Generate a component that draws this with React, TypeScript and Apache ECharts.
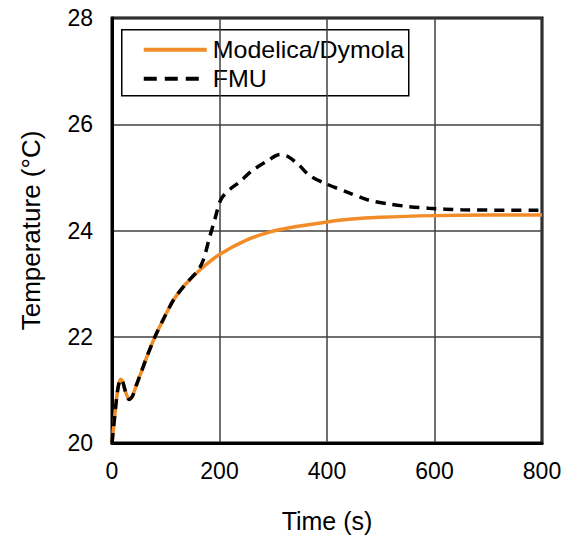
import React, { useEffect, useRef } from "react";
import * as echarts from "echarts";

const seriesNames = ["Modelica/Dymola", "FMU"];

const modelicaData: [number, number][] = [
  [0, 20.0], [3, 20.3], [6, 20.6], [9, 20.88], [12, 21.08], [16, 21.2], [20, 21.15],
  [25, 20.97], [32, 20.82], [38, 20.88], [45, 21.08], [55, 21.35], [64, 21.6],
  [80, 22.0], [100, 22.42], [115, 22.7], [135, 22.97], [166, 23.28], [200, 23.55],
  [250, 23.82], [290, 23.96], [330, 24.05], [400, 24.16], [441, 24.21], [500, 24.25],
  [600, 24.28], [700, 24.29], [800, 24.29],
];

const fmuData: [number, number][] = [
  [0, 20.0], [3, 20.3], [6, 20.6], [9, 20.88], [12, 21.08], [16, 21.2], [20, 21.15],
  [25, 20.97], [32, 20.82], [38, 20.88], [45, 21.08], [55, 21.35], [64, 21.6],
  [80, 22.0], [100, 22.42], [115, 22.7], [135, 22.97], [160, 23.25], [170, 23.45],
  [181, 23.85], [191, 24.2], [203, 24.59], [220, 24.78], [237, 24.91], [260, 25.12],
  [286, 25.29], [313, 25.43], [328, 25.39], [348, 25.23], [367, 25.04], [398, 24.88],
  [441, 24.71], [478, 24.57], [515, 24.5], [552, 24.45], [589, 24.42], [650, 24.39],
  [800, 24.38],
];

const xTicks = { min: 0, max: 800, interval: 200 };
const yTicks = { min: 20, max: 28, interval: 2 };

const FONT = "Liberation Sans, Arial, sans-serif";
const ORANGE = "#F28C28";

export default function App() {
  const ref = useRef<HTMLDivElement>(null);
  useEffect(() => {
    if (!ref.current) return;
    const chart = echarts.init(ref.current, undefined, { renderer: "svg" });
    chart.setOption({
      animation: false,
      backgroundColor: "#fff",
      grid: {
        left: 112,
        right: 27,
        top: 18,
        bottom: 91,
        show: true,
        borderColor: "#000",
        borderWidth: 3,
        backgroundColor: "transparent",
      },
      xAxis: {
        type: "value",
        min: xTicks.min,
        max: xTicks.max,
        interval: xTicks.interval,
        name: "Time (s)",
        nameLocation: "middle",
        nameGap: 65,
        nameTextStyle: { fontSize: 25, fontFamily: FONT, color: "#000" },
        axisLine: { show: true, lineStyle: { color: "#000", width: 3 } },
        axisTick: { show: false },
        axisLabel: { fontSize: 23, fontFamily: FONT, color: "#000", margin: 16 },
        splitLine: { show: true, lineStyle: { color: "#404040", width: 1.5 } },
      },
      yAxis: {
        type: "value",
        min: yTicks.min,
        max: yTicks.max,
        interval: yTicks.interval,
        name: "Temperature (°C)",
        nameLocation: "middle",
        nameGap: 68,
        nameTextStyle: { fontSize: 26, fontFamily: FONT, color: "#000" },
        axisLine: { show: true, lineStyle: { color: "#000", width: 3 } },
        axisTick: { show: false },
        axisLabel: { fontSize: 23, fontFamily: FONT, color: "#000", margin: 19 },
        splitLine: { show: true, lineStyle: { color: "#404040", width: 1.5 } },
      },
      graphic: [
        {
          type: "group",
          left: 121,
          top: 29,
          z: 100,
          children: [
            {
              type: "rect",
              shape: { x: 0, y: 0, width: 287, height: 66 },
              style: { fill: "#fff", stroke: "#000", lineWidth: 1.5 },
            },
            {
              type: "line",
              shape: { x1: 22, y1: 20, x2: 85, y2: 20 },
              style: { stroke: ORANGE, lineWidth: 4 },
            },
            {
              type: "line",
              shape: { x1: 22, y1: 49, x2: 77, y2: 49 },
              style: { stroke: "#000", lineWidth: 4, lineDash: [13, 8] },
            },
            {
              type: "text",
              x: 91,
              y: 20,
              scaleX: 1.04,
              style: {
                text: seriesNames[0],
                fontSize: 24,
                fontFamily: FONT,
                fill: "#000",
                verticalAlign: "middle",
              },
            },
            {
              type: "text",
              x: 91,
              y: 49,
              scaleX: 1.04,
              style: {
                text: seriesNames[1],
                fontSize: 24,
                fontFamily: FONT,
                fill: "#000",
                verticalAlign: "middle",
              },
            },
          ],
        },
      ],
      series: [
        {
          name: seriesNames[0],
          type: "line",
          data: modelicaData,
          showSymbol: false,
          symbol: "none",
          smooth: 0.3,
          lineStyle: { color: ORANGE, width: 3.5 },
          itemStyle: { color: ORANGE },
          z: 2,
        },
        {
          name: seriesNames[1],
          type: "line",
          data: fmuData,
          showSymbol: false,
          symbol: "none",
          smooth: 0.3,
          lineStyle: { color: "#000", width: 3.5, type: [10, 7] },
          itemStyle: { color: "#000" },
          z: 3,
        },
      ],
    });
    return () => chart.dispose();
  }, []);
  return (
    <div
      ref={ref}
      style={{ position: "absolute", left: 0, top: 0, width: 569, height: 538 }}
    />
  );
}
